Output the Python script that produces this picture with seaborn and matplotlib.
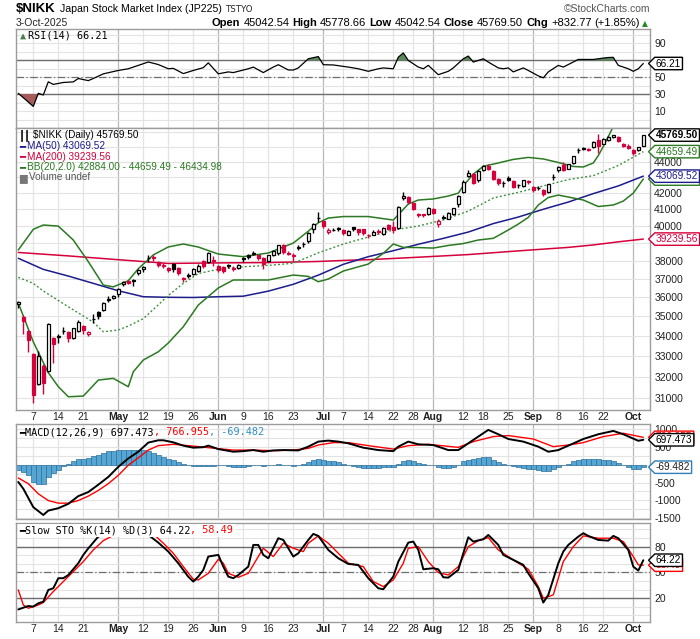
import numpy as np
import pandas as pd
import matplotlib
matplotlib.use("Agg")
import matplotlib.pyplot as plt
import matplotlib.transforms as mtransforms
from matplotlib.path import Path
from matplotlib.ticker import NullLocator
from matplotlib.offsetbox import TextArea, HPacker, AnnotationBbox
import seaborn as sns

# ---------------- data ----------------
holidays = ["2025-04-29", "2025-05-05", "2025-05-06", "2025-07-21",
            "2025-08-11", "2025-09-15", "2025-09-23"]
prev_close = 35624  # close before the first bar

opens = [35650, 34980, 34260, 33100, 31680, 32520, 32300, 33910, 33950, 34230,
         34200, 33900, 34260, 34500, 34080, 34850, 35220, 35330, 35930, 35950,
         36150, 36700, 36900, 36900, 37300, 37550, 38150, 38200, 37950, 37700,
         37600, 37800, 37600, 37050, 37200, 37250, 37450, 38000, 37950, 38050,
         37700, 37650, 37700, 37600, 37600, 38150, 38300, 38400, 38300, 38150,
         38000, 38300, 38450, 38900, 38450, 38250, 38750, 38950, 39100, 39800,
         40500, 40300, 39650, 39750, 39900, 39750, 39500, 39950, 39800, 39800,
         39450, 39500, 39700, 39550, 40050, 39950, 39900, 41700, 41750, 41400,
         40750, 40700, 40700, 41050, 40150, 40500, 40450, 40700, 41350, 42100,
         43100, 43200, 42800, 43450, 43750, 43400, 42900, 42650, 42950, 42750,
         42500, 42450, 42750, 42400, 42300, 42200, 42050, 43000, 43450, 43800,
         43550, 43900, 44750, 44850, 44850, 44950, 45450, 45200, 45450, 45650,
         45650, 45150, 45050, 44800, 44800, 45042.54]
highs = [35800, 35050, 34300, 33150, 33260, 32600, 34650, 33950, 34100, 34450,
         34250, 34420, 34800, 34550, 34250, 35100, 35300, 35750, 36050, 36100,
         36500, 36900, 36950, 37000, 37550, 37700, 38350, 38300, 38000, 37850,
         37650, 37900, 37650, 37100, 37300, 37600, 37800, 38050, 38500, 38250,
         37750, 37700, 37800, 37700, 37800, 38200, 38400, 38550, 38350, 38200,
         38350, 38600, 38900, 38950, 38550, 38450, 38900, 39050, 39650, 40200,
         40850, 40350, 39900, 39900, 39950, 39800, 39750, 39950, 39850, 39850,
         39550, 39750, 39800, 39950, 40100, 40300, 41200, 42050, 41800, 41450,
         40800, 40750, 41150, 41100, 40400, 40650, 40850, 41100, 41900, 42800,
         43450, 43250, 43450, 43800, 43850, 43450, 42950, 42750, 43050, 42800,
         42600, 42850, 42850, 42450, 42450, 42250, 42600, 43200, 43700, 43950,
         43850, 44400, 44900, 45000, 44900, 45350, 45850, 45550, 45700, 45800,
         45700, 45250, 45150, 44850, 45000, 45778.66]
lows = [35450, 34100, 33200, 30792, 31600, 31200, 32250, 32650, 33650, 34100,
        33700, 33850, 34200, 34100, 34000, 34650, 34850, 35280, 35750, 35900,
        36000, 36600, 36700, 36600, 37200, 37400, 37950, 38000, 37650, 37600,
        37350, 37350, 37200, 36850, 37050, 37200, 37400, 37600, 37900, 37700,
        37400, 37300, 37600, 37450, 37550, 37950, 38100, 38300, 38050, 37550,
        37950, 38250, 38350, 38400, 38300, 38000, 38600, 38800, 39000, 39600,
        40250, 39900, 39550, 39700, 39700, 39500, 39450, 39700, 39500, 39450,
        39300, 39450, 39550, 39500, 39750, 39600, 39800, 41600, 41350, 40950,
        40550, 40550, 40650, 40750, 39950, 40400, 40400, 40650, 41150, 42000,
        43000, 42600, 42700, 43400, 43450, 42800, 42500, 42400, 42750, 42300,
        42350, 42400, 42600, 42100, 42200, 41800, 42000, 42850, 43350, 43400,
        43500, 43850, 44600, 44750, 44700, 44900, 44550, 45150, 45400, 45550,
        45300, 44950, 44850, 44450, 44700, 45042.54]
closes = [35725, 34736, 33781, 31136, 33012, 31714, 34609, 33586, 33982, 34267,
          33920, 34377, 34730, 34280, 34220, 34868, 35039, 35705, 35839, 36045,
          36452, 36830, 36780, 36928, 37503, 37644, 38183, 38128, 37755, 37753,
          37498, 37529, 37299, 36985, 37160, 37531, 37724, 37722, 38432, 37965,
          37470, 37446, 37747, 37554, 37741, 38088, 38211, 38421, 38173, 37834,
          38311, 38536, 38885, 38488, 38403, 38354, 38790, 38942, 39584, 40150,
          40487, 39986, 39762, 39785, 39810, 39587, 39688, 39821, 39646, 39570,
          39459, 39678, 39663, 39901, 39819, 39774, 41171, 41826, 41456, 40998,
          40674, 40654, 41069, 40800, 40290, 40549, 40794, 41059, 41820, 42718,
          43274, 42649, 43378, 43714, 43546, 42888, 42610, 42633, 42807, 42394,
          42520, 42829, 42718, 42188, 42310, 41938, 42580, 43018, 43643, 43459,
          43837, 44372, 44768, 44902, 44790, 45303, 45045, 45493, 45630, 45754,
          45355, 45044, 44932, 44550, 44936, 45769.50]

# overlays: (bar index, value) read at points along each line
ma50_pts = [(0, 38140), (5, 37520), (10, 37150), (15, 36750), (20, 36350), (25, 36030),
            (30, 36000), (35, 35990), (40, 36030), (45, 36060), (50, 36330), (55, 36700),
            (60, 37200), (65, 37800), (70, 38230), (75, 38570), (80, 38940), (85, 39280),
            (90, 39650), (95, 40150), (100, 40540), (105, 41010), (110, 41450),
            (115, 41970), (120, 42450), (125, 43069.52)]
ma200_pts = [(0, 38470), (10, 38275), (20, 38060), (30, 37850), (40, 37880), (50, 37900),
             (60, 37960), (66, 38030), (70, 38060), (80, 38200), (90, 38350), (100, 38560),
             (110, 38760), (115, 38900), (120, 39080), (125, 39239.56)]
bb_upper_pts = [(0, 38610), (3, 39810), (5, 40065), (8, 40000), (11, 39185), (14, 37950),
                (17, 36660), (19, 36560), (22, 36895), (24, 37555), (27, 38330), (30, 38785),
                (33, 38955), (36, 38780), (40, 38380), (45, 38230), (50, 38440), (55, 39010),
                (58, 39700), (60, 40200), (62, 40480), (65, 40570), (70, 40570), (75, 40360),
                (78, 41330), (80, 41574), (83, 41640), (86, 41820), (88, 42000), (89, 42460),
                (91, 43200), (93, 43700), (96, 43917), (99, 44150), (102, 44280), (105, 44178),
                (108, 43950), (111, 43690), (113, 43657), (115, 43917), (116, 44400),
                (117, 45000), (118, 45670), (119, 46350), (121, 46600), (123, 46550),
                (125, 46434.98)]
bb_mid_pts = [(0, 37080), (3, 36750), (5, 36335), (10, 35500), (15, 34700), (17, 34210),
              (20, 34300), (22, 34500), (25, 34880), (28, 35600), (30, 36100), (33, 36750),
              (36, 37290), (40, 37520), (45, 37667), (50, 37740), (55, 37860), (60, 38450),
              (65, 38950), (70, 39360), (75, 39770), (80, 40006), (85, 40362), (90, 40900),
              (95, 41698), (100, 42050), (105, 42450), (110, 42850), (115, 43100),
              (120, 43754), (125, 44659.49)]
bb_lower_pts = [(0, 35696), (3, 33700), (6, 32200), (8, 31540), (10, 31073), (13, 31105),
                (16, 31850), (19, 31930), (22, 31537), (23, 32245), (25, 32808), (28, 33213),
                (30, 33645), (33, 34467), (36, 35590), (40, 36500), (43, 36934), (50, 36934),
                (55, 37206), (58, 37130), (60, 36841), (62, 36985), (65, 37427), (70, 37816),
                (73, 38420), (75, 38955), (77, 38762), (80, 38750), (83, 38720), (86, 38870),
                (89, 38980), (92, 39185), (95, 39283), (98, 39770), (100, 40120), (102, 40520),
                (104, 41268), (106, 41730), (108, 41880), (110, 41760), (113, 41574),
                (116, 41177), (119, 41268), (121, 41510), (123, 42000), (125, 42884)]

rsi_pts = [(0, 31), (3, 15.5), (4, 31), (5, 29), (6, 44.6), (7, 41.5), (9, 43.8), (11, 44.5),
           (12, 48.5), (14, 46), (15, 48.5), (17, 54), (20, 58), (22, 60), (24, 64), (26, 68),
           (28, 65), (30, 60), (31, 60.5), (33, 54.3), (35, 58), (37, 61.3), (38, 67), (40, 54),
           (42, 56.3), (43, 55.5), (46, 60), (47, 62), (49, 55.5), (51, 62), (52, 64.8),
           (54, 58.6), (55, 58.5), (56, 61), (58, 71.8), (60, 74.4), (61, 64.8), (63, 64.5),
           (66, 62), (68, 60), (70, 57), (72, 60), (73, 61), (75, 60), (76, 73.7), (77, 78.7),
           (78, 69.8), (80, 62), (81, 60), (82, 64), (84, 53), (86, 57), (87, 61), (89, 71.8),
           (90, 75), (91, 67.9), (93, 71.8), (94, 67.9), (96, 61), (97, 60), (98, 61),
           (99, 56.3), (101, 61), (102, 58), (104, 51.6), (105, 49.3), (106, 56.3), (108, 64),
           (109, 62), (112, 71), (114, 71), (115, 71), (117, 72.6), (118, 73.3), (119, 73.5),
           (120, 64), (121, 62), (122, 60), (123, 57), (124, 60), (125, 66.21)]

macd_pts = [(0, -483), (1, -672), (3, -1189), (5, -1407), (6, -1285), (8, -1218), (10, -1096),
            (12, -879), (14, -766), (16, -559), (18, -342), (20, -59), (22, 175), (24, 364),
            (26, 619), (28, 684), (29, 684), (31, 627), (33, 534), (35, 477), (37, 490),
            (38, 534), (40, 438), (43, 364), (45, 380), (47, 410), (49, 364), (51, 400),
            (53, 410), (56, 400), (58, 506), (60, 647), (62, 675), (64, 647), (66, 599),
            (69, 477), (72, 410), (75, 381), (76, 506), (78, 647), (80, 571), (83, 551),
            (86, 410), (88, 410), (90, 599), (92, 788), (94, 975), (96, 853), (98, 720),
            (101, 647), (104, 506), (106, 364), (108, 410), (110, 534), (113, 720), (116, 853),
            (119, 946), (121, 853), (124, 670), (125, 697.473)]
signal_pts = [(0, -370), (2, -531), (4, -814), (6, -1003), (8, -1076), (10, -1076),
              (12, -1003), (14, -879), (16, -720), (18, -531), (20, -297), (22, -14), (24, 195),
              (26, 410), (28, 534), (31, 571), (34, 534), (36, 506), (40, 449), (43, 410),
              (47, 410), (51, 393), (55, 410), (58, 458), (60, 551), (63, 619), (66, 619),
              (70, 534), (75, 438), (78, 534), (82, 571), (88, 486), (91, 647), (95, 788),
              (98, 816), (103, 720), (107, 506), (110, 551), (113, 619), (117, 788), (121, 881),
              (125, 766.955)]
macd_hist = [-160, -207, -300, -490, -537, -537, -350, -226, -160, -38,
             28, 94, 170, 170, 190, 235, 283, 340, 377, 396,
             405, 424, 424, 424, 405, 405, 386, 340, 283, 217,
             170, 122, 75, 28, -19, -38, -38, -38, -38, -38,
             -10, -19, -47, -66, -66, -57, -38, -19, -19, -38,
             -19, -19, 9, 0, -19, -38, 0, 28, 75, 122,
             170, 141, 104, 94, 75, 28, 0, -38, -66, -85,
             -85, -85, -85, -66, -66, -66, 28, 94, 141, 94,
             47, 28, 0, 0, -66, -94, -94, -66, -19, 94,
             141, 170, 190, 217, 217, 141, 75, 28, -19, -47,
             -66, -94, -113, -132, -160, -188, -179, -132, -66, -19,
             28, 94, 141, 150, 150, 150, 150, 141, 122, 94,
             47, 0, -66, -113, -113, -69.482]

sto_k_pts = [(0, 7), (2, 11), (3, 10.3), (4, 14.2), (5, 16), (6, 29.7), (7, 31.6), (8, 43.3),
             (9, 43.3), (10, 47), (12, 60.7), (13, 70.4), (14, 78), (16, 91.7), (17, 93.6),
             (20, 98), (24, 97), (26, 93.6), (28, 84.7), (30, 74.3), (32, 60.7), (34, 45),
             (35, 39.4), (36, 45.2), (37, 53), (38, 68.5), (40, 70.4), (41, 56.8), (42, 45.2),
             (43, 43.3), (44, 47), (46, 56.8), (47, 82), (48, 82), (49, 70.4), (50, 66.5),
             (52, 89.8), (53, 87.8), (55, 68.5), (56, 72.3), (58, 87.8), (59, 94.8), (60, 92.5),
             (62, 76.2), (64, 66.5), (66, 59.9), (68, 58.8), (70, 43.3), (72, 31.6), (73, 30.5),
             (75, 45.2), (76, 62.6), (78, 84.7), (79, 85.9), (80, 76.2), (81, 53.7), (83, 54.9),
             (84, 53.7), (85, 44.4), (86, 44), (88, 52.9), (89, 72.3), (90, 90.9), (91, 85.9),
             (93, 88.6), (94, 93.6), (96, 82), (97, 70.4), (99, 64.6), (101, 58.8), (102, 49),
             (104, 31.6), (105, 15), (106, 23.9), (108, 60.7), (109, 74.3), (110, 82),
             (112, 91.7), (113, 95.6), (114, 92.5), (116, 87.8), (118, 87), (119, 92.5),
             (120, 89.8), (122, 76.2), (123, 56.8), (124, 52.2), (125, 64.22)]
sto_d_pts = [(0, 29.7), (1, 12.2), (2, 8.4), (4, 12.2), (5, 15), (7, 27.8), (9, 39.4),
             (11, 51), (13, 62.6), (15, 76.2), (17, 87), (20, 96), (24, 98), (27, 94.8),
             (29, 84), (31, 72.3), (33, 56.8), (35, 42.1), (36, 41.3), (38, 49), (40, 65.3),
             (41, 60.7), (42, 49), (44, 44.4), (46, 49), (48, 68.5), (49, 78.1), (51, 68.5),
             (53, 84), (55, 78.1), (57, 74.3), (58, 84), (60, 92.5), (62, 84), (64, 72.3),
             (66, 60.7), (69, 56.8), (71, 39.4), (73, 33.6), (75, 41.3), (77, 60.7), (78, 78.1),
             (80, 80), (82, 62.6), (84, 49.8), (86, 47.1), (88, 56.8), (90, 80), (92, 87),
             (94, 90.5), (96, 76.2), (99, 64.6), (102, 53.7), (104, 33.6), (105, 20),
             (107, 23.9), (109, 62.6), (111, 80), (113, 92.5), (116, 89.8), (119, 89.8),
             (121, 85.9), (123, 68.5), (124, 58.8), (125, 58.49)]

price_grid = list(range(31000, 46001, 1000))
# labels hidden behind the value tags in the original are left out
price_labels = [31000, 32000, 33000, 34000, 35000, 36000, 37000, 38000,
                40000, 41000, 42000, 44000]

# ---------------- style ----------------
sns.set_style("white")
plt.rcParams["font.family"] = ["Liberation Sans", "DejaVu Sans"]
MONO = ["DejaVu Sans Mono", "DejaVu Sans"]
RED = "#d6003b"
NAVY = "#1c1c8c"
GREEN = "#2b7a22"
GRID = "#e3e3e3"
MONTH_GRID = "#b8b8b8"
FRAME = "#9c9c9c"

W, H = 700, 639
fig = plt.figure(figsize=(W / 100, H / 100), dpi=100)
fig.patch.set_facecolor("white")
PX = mtransforms.Affine2D().scale(1 / W, -1 / H).translate(0, 1) + fig.transFigure


def panel(top, bottom):
    return fig.add_axes([16 / W, 1 - bottom / H, 634 / W, (bottom - top) / H])


ax_rsi = panel(29, 128)
ax_px = panel(128, 410)
ax_macd = panel(424, 519)
ax_sto = panel(523, 622)
all_axes = [ax_rsi, ax_px, ax_macd, ax_sto]

dates = [d for d in pd.bdate_range("2025-04-02", "2025-10-03")
         if d.strftime("%Y-%m-%d") not in holidays]
n = len(dates)
xs = np.arange(n)

month_starts = [i for i in range(1, n) if dates[i].month != dates[i - 1].month]
week_starts = [i for i in range(1, n)
               if dates[i].isocalendar()[1] != dates[i - 1].isocalendar()[1]]
xlabels = {i: (dates[i].strftime("%b"), True) for i in month_starts}
for i in week_starts:
    if i in xlabels or any(abs(i - m) <= 2 for m in month_starts):
        continue
    xlabels[i] = (str(dates[i].day), False)

for ax in all_axes:
    ax.set_facecolor("white")
    ax.set_xlim(-0.46, 126.34)
    ax.set_xticks([])
    for s in ax.spines.values():
        s.set_color(FRAME)
        s.set_linewidth(1)
    ax.yaxis.tick_right()
    ax.tick_params(axis="y", which="both", length=0, pad=3, labelsize=7.5,
                   labelcolor="#222222", right=True, left=False)
    for i, (lab, is_month) in xlabels.items():
        ax.axvline(i, color=MONTH_GRID if is_month else GRID, lw=0.9, zorder=0)


def pts(p):
    a = np.array(p, dtype=float)
    return a[:, 0], a[:, 1]


# ---------------- RSI ----------------
ax_rsi.set_ylim(-10, 107)
for v in range(0, 101, 10):
    ax_rsi.axhline(v, color=GRID, lw=0.8, zorder=0)
ax_rsi.axhline(70, color="#6e6e6e", lw=1, zorder=1)
ax_rsi.axhline(30, color="#6e6e6e", lw=1, zorder=1)
ax_rsi.axhline(50, color="#6e6e6e", lw=0.9, ls=(0, (6, 2, 1, 2)), zorder=1)
rx, ry = pts(rsi_pts)
ax_rsi.fill_between(rx, ry, 70, where=ry >= 70, interpolate=True, color="#5b8a5b", lw=0, zorder=2)
ax_rsi.fill_between(rx, ry, 30, where=ry <= 30, interpolate=True, color="#a65a5a", lw=0, zorder=2)
sns.lineplot(x=rx, y=ry, ax=ax_rsi, color="black", linewidth=0.9, legend=False, zorder=3)
ax_rsi.set_yticks([10, 30, 50, 90])
ax_rsi.set_yticklabels(["10", "30", "50", "90"])
ax_rsi.set_xlim(-0.46, 126.34)
ax_rsi.set_ylim(-10, 107)
ax_rsi.set_xlabel("")
ax_rsi.set_ylabel("")

# ---------------- price ----------------
ax_px.set_yscale("log")
ax_px.set_ylim(30470, 46250)
for v in price_grid:
    ax_px.axhline(v, color=GRID, lw=0.8, zorder=0)
ax_px.set_yticks(price_labels)
ax_px.set_yticklabels([str(v) for v in price_labels])
ax_px.yaxis.set_minor_locator(NullLocator())

for p, col, lw, ls in [(ma200_pts, RED, 1.1, "-"), (ma50_pts, NAVY, 1.1, "-"),
                       (bb_upper_pts, GREEN, 1.1, "-"), (bb_lower_pts, GREEN, 1.1, "-"),
                       (bb_mid_pts, "#3f8f3f", 1.0, (0, (1.4, 1.6)))]:
    px_, py_ = pts(p)
    sns.lineplot(x=px_, y=py_, ax=ax_px, color=col, linewidth=lw, linestyle=ls,
                 legend=False, zorder=2)
ax_px.set_xlim(-0.46, 126.34)
ax_px.set_ylim(30470, 46250)
ax_px.set_xlabel("")
ax_px.set_ylabel("")

o = np.array(opens, float)
hi = np.array(highs, float)
lo = np.array(lows, float)
c = np.array(closes, float)
prev = np.r_[prev_close, c[:-1]]
edge = np.where(c >= prev, "#000000", RED)
face = np.where(c > o, "#ffffff", edge)
body_lo = np.minimum(o, c)
body_h = np.maximum(np.maximum(o, c) - body_lo, 10)
ax_px.vlines(xs, lo, hi, colors=list(edge), lw=1, zorder=3)
ax_px.bar(xs, body_h, bottom=body_lo, width=0.7, color=list(face),
          edgecolor=list(edge), linewidth=0.9, zorder=4)

# ---------------- MACD ----------------
ax_macd.set_ylim(-1520, 1140)
for v in range(-1500, 1001, 250):
    ax_macd.axhline(v, color=GRID, lw=0.8, zorder=0)
ax_macd.bar(xs, macd_hist, width=1.0, color="#56a6d4", edgecolor="#2c6f9c",
            linewidth=0.5, zorder=2)
mx, my = pts(macd_pts)
sx, sy = pts(signal_pts)
sns.lineplot(x=sx, y=sy, ax=ax_macd, color="#ff0000", linewidth=1.0, legend=False, zorder=3)
sns.lineplot(x=mx, y=my, ax=ax_macd, color="black", linewidth=1.4, legend=False, zorder=4)
ax_macd.set_yticks([-1500, -1000, -500, 500, 1000])
ax_macd.set_yticklabels(["-1500", "-1000", "-500", "500", "1000"])
ax_macd.set_xlim(-0.46, 126.34)
ax_macd.set_ylim(-1520, 1140)
ax_macd.set_xlabel("")
ax_macd.set_ylabel("")

# ---------------- Slow stochastic ----------------
ax_sto.set_ylim(-7.6, 107.5)
for v in range(0, 101, 10):
    ax_sto.axhline(v, color=GRID, lw=0.8, zorder=0)
ax_sto.axhline(80, color="#6e6e6e", lw=1, zorder=1)
ax_sto.axhline(20, color="#6e6e6e", lw=1, zorder=1)
ax_sto.axhline(50, color="#6e6e6e", lw=0.9, ls=(0, (6, 2, 1, 2)), zorder=1)
kx, ky = pts(sto_k_pts)
dx, dy = pts(sto_d_pts)
sns.lineplot(x=dx, y=dy, ax=ax_sto, color="#ff0000", linewidth=1.0, legend=False, zorder=3)
sns.lineplot(x=kx, y=ky, ax=ax_sto, color="black", linewidth=1.4, legend=False, zorder=4)
ax_sto.set_yticks([20, 50, 80])
ax_sto.set_yticklabels(["20", "50", "80"])
ax_sto.set_xlim(-0.46, 126.34)
ax_sto.set_ylim(-7.6, 107.5)
ax_sto.set_xlabel("")
ax_sto.set_ylabel("")

# ---------------- date labels ----------------
for ax, ypix in [(ax_px, 416.5), (ax_sto, 629.5)]:
    tr = mtransforms.blended_transform_factory(ax.transData, PX)
    for i, (lab, is_month) in xlabels.items():
        ax.text(i, ypix, lab, transform=tr, ha="center", va="center", fontsize=7.5,
                fontweight="bold" if is_month else "normal", color="#222222", clip_on=False)


# ---------------- right-hand value tags ----------------
def tag_box(x0, y0, width, height, mutation_size):
    pad = 0.12 * mutation_size
    x0, y0 = x0 - pad, y0 - pad
    x1, y1 = x0 + width + 2 * pad, y0 + height + 2 * pad
    tip = (y1 - y0) * 0.5
    return Path([(x0, y0), (x1, y0), (x1, y1), (x0, y1),
                 (x0 - tip, 0.5 * (y0 + y1)), (x0, y0)], closed=True)


def tag(ax, y, s, ec, tc=None, bold=False):
    tr = mtransforms.blended_transform_factory(ax.transAxes, ax.transData)
    ax.text(1 + 6 / 634, y, s, transform=tr, ha="left", va="center", fontsize=7.3,
            color=tc or ec, fontweight="bold" if bold else "normal", clip_on=False,
            bbox=dict(boxstyle=tag_box, fc="white", ec=ec, lw=1), zorder=10)


tag(ax_rsi, 66.21, "66.21", "black")
tag(ax_px, 39239.56, "39239.56", RED)
tag(ax_px, 42884.00, "42884.00", GREEN)
tag(ax_px, 43069.52, "43069.52", NAVY)
tag(ax_px, 44659.49, "44659.49", GREEN)
tag(ax_px, 45769.50, "45769.50", "black", bold=True)
tag(ax_macd, 766.955, "766.955", "#ff0000")
tag(ax_macd, 697.473, "697.473", "black")
tag(ax_macd, -69.482, "-69.482", "#2f7fb5", tc="#222222")
tag(ax_sto, 58.49, "58.49", "#ff0000")
tag(ax_sto, 64.22, "64.22", "black")


# ---------------- text blocks ----------------
def rich(target, x, y, parts, size, family=None, sep=0, align=(0, 0.5), bg=None):
    kids = []
    for part in parts:
        s, col, wt = part[:3]
        props = dict(color=col, fontsize=part[3] if len(part) > 3 else size, fontweight=wt)
        if family:
            props["family"] = family
        kids.append(TextArea(s, textprops=props))
    pack = HPacker(children=kids, align="baseline", pad=0, sep=sep)
    ab = AnnotationBbox(pack, (x, y), xycoords=PX, box_alignment=align,
                        frameon=bg is not None, pad=0.1,
                        bboxprops=dict(fc=bg or "none", ec="none"), zorder=20)
    target.add_artist(ab)


rich(fig, 16, 9.5, [("$NIKK", "black", "bold", 9.5),
                    ("Japan Stock Market Index (JP225)", "black", "normal", 7.6)], 9.5, sep=3)
fig.text(226 / W, 1 - 10 / H, "TSTYO", fontsize=6.2, family="DejaVu Sans",
         va="center", ha="left")
fig.text(16 / W, 1 - 23.5 / H, "3-Oct-2025", fontsize=7.5, va="center", ha="left")
rich(fig, 640, 23.5, [("Open", "black", "bold"), ("45042.54", "black", "normal"),
                      ("High", "black", "bold"), ("45778.66", "black", "normal"),
                      ("Low", "black", "bold"), ("45042.54", "black", "normal"),
                      ("Close", "black", "bold"), ("45769.50", "black", "normal"),
                      ("Chg", "black", "bold"), ("+832.77", "black", "normal"),
                      ("(+1.85%)", "black", "normal")], 8, sep=2.2, align=(1, 0.5))
fig.text(645 / W, 1 - 23.5 / H, "\u25b2", fontsize=5.5, color="#1f8a1f",
         family="DejaVu Sans", va="center", ha="center")
fig.text(650 / W, 1 - 9.5 / H, "\u00a9StockCharts.com", fontsize=7.5, color="#555555",
         va="center", ha="right")

rich(ax_rsi, 20, 35.5, [("\u25b2", "#4d7d4d", "normal"), ("RSI(14) 66.21", "black", "normal")],
     7.3, family=MONO, sep=1.5)

legend_rows = [
    (135, [("\u2503\u2503", "black", "normal"), ("$NIKK (Daily) 45769.50", "black", "normal")]),
    (146, [("\u2501", NAVY, "normal"), ("MA(50) 43069.52", NAVY, "normal")]),
    (156.5, [("\u2501", RED, "normal"), ("MA(200) 39239.56", RED, "normal")]),
    (167, [("\u2501", GREEN, "normal"), ("BB(20,2.0) 42884.00 - 44659.49 - 46434.98", GREEN, "normal")]),
    (177.5, [("\u2587", "#777777", "normal"), ("Volume undef", "#555555", "normal")]),
]
for yy, parts in legend_rows:
    rich(ax_px, 19, yy, parts, 7.2, sep=1.5)

rich(ax_macd, 19, 432.5, [("\u2501", "black", "normal"),
                          ("MACD(12,26,9) 697.473", "black", "normal"),
                          (", 766.955", "#ff0000", "normal"),
                          (", -69.482", "#2f8fc5", "normal")], 7.3, family=MONO, sep=0)
rich(ax_sto, 19, 530.5, [("\u2501", "black", "normal"),
                         ("Slow STO %K(14) %D(3) 64.22", "black", "normal"),
                         (", 58.49", "#ff0000", "normal")], 7.3, family=MONO, sep=0,
     bg="white")

fig.savefig("out.png", dpi=100, facecolor="white")
